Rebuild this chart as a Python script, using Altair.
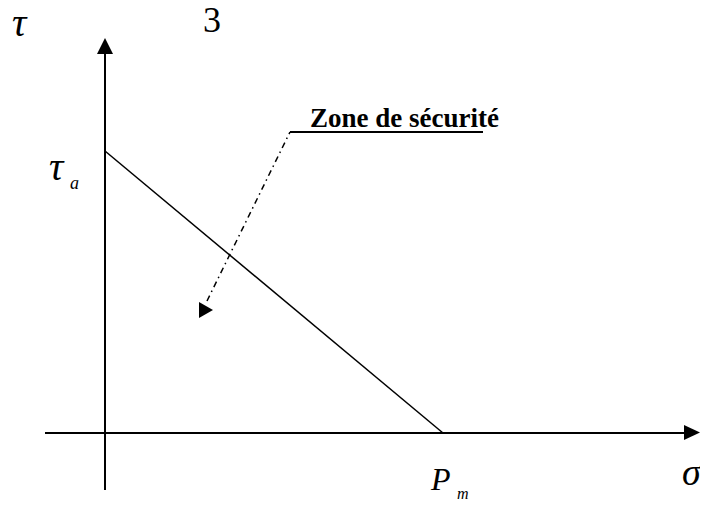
import altair as alt
import pandas as pd

# Diagram values (origin at the crossing of the axes)
tau_a = 282          # intercept on the tau axis
P_m = 338            # intercept on the sigma axis

# axis segments: x, y, x2, y2
axis_x = [0, -60]
axis_y = [-57, 0]
axis_x2 = [0, 584]
axis_y2 = [385, 0]

# criterion line
crit_x = [0, P_m]
crit_y = [tau_a, 0]

# label leader: underline and dash-dot pointer
under_x = [185, 378]
under_y = [301, 301]
lead_x = [185, 102]
lead_y = [301, 132]

# arrowheads
head_x = [0, 587, 101]
head_y = [387, 0.5, 123]
head_shape = ["M0,-1L1,1L-1,1Z", "M-1,-0.94L1,0L-1,0.94Z", "M-0.875,-1L0.875,0L-0.875,1Z"]
head_size = [256, 256, 256]

# italic labels (left edge, baseline)
ital_text = ["τ", "τ", "a", "P", "m", "σ"]
ital_x = [-93, -56, -35, 326, 352, 577]
ital_y = [397, 253, 244, -57, -66, -52]
ital_size = [40, 40, 18, 32, 16, 38]

# upright labels
up_text = ["3"]
up_x = [98]
up_y = [401]
up_size = [36]

zone_text = ["Zone de sécurité"]
zone_x = [205]
zone_y = [306]

X = alt.X("x:Q", scale=alt.Scale(domain=[-97, 595]), axis=None)
Y = alt.Y("y:Q", scale=alt.Scale(domain=[-67, 425]), axis=None)

axes_df = pd.DataFrame({"x": axis_x, "y": axis_y, "x2": axis_x2, "y2": axis_y2})
axes = alt.Chart(axes_df).mark_rule(color="black", strokeWidth=2).encode(
    x=X, y=Y, x2="x2:Q", y2="y2:Q")

crit = alt.Chart(pd.DataFrame({"x": crit_x, "y": crit_y})).mark_line(
    color="black", strokeWidth=1.5).encode(x=X, y=Y)

under = alt.Chart(pd.DataFrame({"x": under_x, "y": under_y})).mark_line(
    color="black", strokeWidth=2).encode(x=X, y=Y)

lead = alt.Chart(pd.DataFrame({"x": lead_x, "y": lead_y})).mark_line(
    color="black", strokeWidth=1.5, strokeDash=[6, 4, 1.5, 4]).encode(x=X, y=Y)

heads = []
for hx, hy, hs, hz in zip(head_x, head_y, head_shape, head_size):
    heads.append(alt.Chart(pd.DataFrame({"x": [hx], "y": [hy]})).mark_point(
        shape=hs, filled=True, color="black", opacity=1, size=hz, strokeWidth=0).encode(x=X, y=Y))

ital = alt.Chart(pd.DataFrame({"x": ital_x, "y": ital_y, "t": ital_text, "s": ital_size})).mark_text(
    font="Liberation Serif", fontStyle="italic", color="black", align="left", baseline="alphabetic").encode(
    x=X, y=Y, text="t:N", size=alt.Size("s:Q", scale=None, legend=None))

up = alt.Chart(pd.DataFrame({"x": up_x, "y": up_y, "t": up_text, "s": up_size})).mark_text(
    font="Liberation Serif", color="black", align="left", baseline="alphabetic").encode(
    x=X, y=Y, text="t:N", size=alt.Size("s:Q", scale=None, legend=None))

zone = alt.Chart(pd.DataFrame({"x": zone_x, "y": zone_y, "t": zone_text})).mark_text(
    font="Liberation Serif", fontWeight="bold", fontSize=27, color="black", align="left",
    baseline="alphabetic").encode(x=X, y=Y, text="t:N")

chart = alt.layer(axes, crit, under, lead, *heads, ital, up, zone).properties(
    width=692, height=492, autosize=alt.AutoSizeParams(type="none"), padding=0,
    background="white"
).configure_view(stroke=None)

chart.save("out.html", embed_options={"renderer": "svg", "actions": False})
